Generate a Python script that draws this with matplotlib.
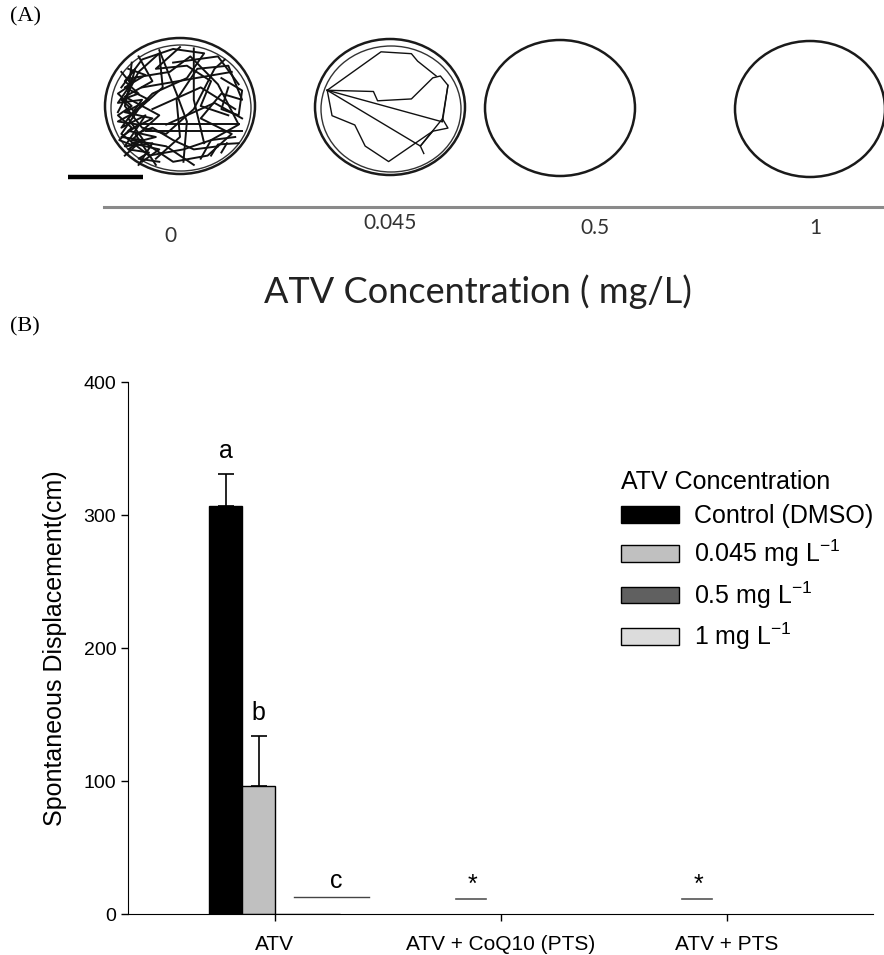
import numpy as np
import matplotlib.pyplot as plt
from matplotlib.patches import Ellipse

plt.rcParams['font.family'] = ['Liberation Sans', 'DejaVu Sans']
plt.rcParams['mathtext.fontset'] = 'custom'
plt.rcParams['mathtext.rm'] = 'Liberation Sans'
plt.rcParams['mathtext.it'] = 'Liberation Sans:italic'

# ---- panel A: tracking images (normalised coords inside each arena, y down)
arena_labels = ['0', '0.045', '0.5', '1']
arena_tracks = [
    [  # control: dense swimming
        [(-0.85, -0.3), (-0.55, -0.75), (-0.1, -0.92), (0.35, -0.85), (0.1, -0.45), (-0.4, -0.2),
         (-0.75, 0.2), (-0.5, 0.6), (-0.1, 0.9), (0.4, 0.8), (0.75, 0.45), (0.3, 0.2), (0.6, -0.2),
         (0.9, -0.1), (0.7, -0.65), (0.25, -0.6), (-0.05, -0.1), (0.0, 0.5), (-0.35, 0.85)],
        [(-0.9, 0.1), (-0.6, -0.55), (-0.3, -0.85), (-0.25, -0.3), (-0.6, 0.05), (-0.85, 0.45),
         (-0.45, 0.8), (0.05, 0.7), (0.45, 0.55), (0.85, 0.3), (0.55, -0.35), (0.15, -0.8),
         (-0.15, -0.55), (-0.7, -0.45), (-0.8, 0.0), (-0.55, 0.35), (-0.2, 0.45), (0.2, 0.05),
         (0.5, -0.6), (0.65, -0.75)],
        [(-0.7, -0.7), (-0.75, -0.2), (-0.65, -0.6), (-0.8, -0.4), (-0.6, -0.2), (-0.85, -0.1),
         (-0.65, 0.1), (-0.9, 0.25), (-0.6, 0.3), (-0.85, 0.5), (-0.55, 0.55), (-0.75, 0.7),
         (-0.45, 0.75), (-0.6, 0.85), (-0.3, 0.9)],
        [(-0.85, -0.55), (-0.7, -0.35), (-0.9, -0.2), (-0.7, 0.0), (-0.9, 0.15), (-0.7, 0.35),
         (-0.88, 0.55), (-0.65, 0.65), (-0.8, 0.8)],
        [(-0.75, -0.6), (-0.5, -0.5), (-0.8, -0.3), (-0.45, -0.1), (-0.8, 0.1), (-0.4, 0.2),
         (-0.75, 0.4), (-0.35, 0.5), (-0.7, 0.6), (-0.3, 0.7), (-0.55, 0.9)],
        [(-0.65, -0.45), (-0.9, -0.05), (-0.55, -0.1), (-0.85, 0.35), (-0.5, 0.15), (-0.8, 0.65),
         (-0.4, 0.6), (-0.6, 0.95)],
        [(-0.6, -0.8), (-0.4, -0.4), (-0.8, -0.15), (-0.3, 0.15), (-0.7, 0.55), (-0.2, 0.65), (0.2, 0.95)],
        [(0.0, -0.95), (-0.35, -0.6), (0.1, -0.65), (0.45, -0.4), (0.3, 0.0), (0.7, 0.15)],
        [(0.55, 0.65), (0.2, 0.7), (-0.1, 0.55), (-0.4, 0.35), (-0.65, 0.45), (-0.35, 0.95)],
        [(0.6, -0.45), (0.9, -0.25), (0.85, 0.15), (0.6, 0.05), (0.7, -0.3)],
        [(-0.6, 0.29), (0.85, 0.29)],
        [(-0.5, 0.41), (0.9, 0.41)],
        [(0.3, 0.85), (0.45, 0.55), (0.8, 0.5)],
        [(0.45, 0.8), (0.55, 0.62), (0.85, 0.6)],
        [(0.6, 0.75), (0.68, 0.6)],
        [(-0.3, -0.9), (-0.05, -0.2), (0.1, 0.25), (0.05, 0.9)],
        [(0.2, -0.93), (0.2, -0.1), (0.35, 0.6)],
        [(-0.2, 0.3), (0.5, -0.05), (0.9, 0.2)],
        [(-0.55, -0.3), (0.75, -0.55)],
        [(-0.4, 0.05), (0.3, -0.3), (0.8, 0.05)],
        [(-0.1, -0.7), (0.55, -0.8), (0.85, -0.35)],
    ],
    [  # 0.045 mg/L: a few passes
        [(-0.91, -0.27), (-0.24, -0.25), (-0.18, -0.10), (0.31, -0.13), (0.62, -0.47), (0.73, -0.50),
         (0.84, -0.35), (0.76, 0.19), (0.84, 0.34), (0.62, 0.39), (0.44, 0.63), (0.49, 0.75)],
        [(-0.91, -0.27), (-0.84, 0.14), (-0.51, 0.29), (-0.36, 0.63), (-0.02, 0.88), (0.62, 0.39)],
        [(-0.91, -0.27), (0.76, 0.24), (0.84, -0.35)],
        [(-0.91, -0.27), (-0.13, -0.89), (0.31, -0.86), (0.40, -0.74), (0.67, -0.50)],
        [(-0.91, -0.27), (0.44, 0.63), (0.76, 0.19)],
    ],
    [],
    [],
]

# ---- panel B: spontaneous displacement
groups = ['ATV', 'ATV + CoQ10 (PTS)', 'ATV + PTS']
series = ['Control (DMSO)', '0.045 mg L$^{\\mathregular{-1}}$',
          '0.5 mg L$^{\\mathregular{-1}}$', '1 mg L$^{\\mathregular{-1}}$']
colors = ['#000000', '#c0c0c0', '#606060', '#dcdcdc']
means = [307, 96, 0, 0]   # only ATV group has bars
sems = [24, 38, 0, 0]
letters = ['a', 'b']

fig = plt.figure(figsize=(8.84, 9.55), dpi=100)

# overlay axes in pixel units for panel A and the panel tags
ov = fig.add_axes([0, 0, 1, 1])
ov.set_xlim(0, 884)
ov.set_ylim(955, 0)
ov.axis('off')

centers = [(180, 106), (390, 107), (560, 108), (810, 109)]
rx, ry = 75, 68
for i, (cx, cy) in enumerate(centers):
    ov.add_patch(Ellipse((cx, cy), 2 * rx, 2 * ry, fill=False, ec='#1a1a1a', lw=1.8))
    if arena_tracks[i]:
        ov.add_patch(Ellipse((cx + 1, cy + 2), 2 * rx - 10, 2 * ry - 10, fill=False, ec='#333333', lw=1.0))
    for tr in arena_tracks[i]:
        pts = np.array(tr)
        ov.plot(cx + pts[:, 0] * (rx - 6), cy + pts[:, 1] * (ry - 6), color='#111111',
                lw=1.4 if i == 0 else 1.0)

ov.plot([68, 143], [177, 177], color='black', lw=3.2, solid_capstyle='butt')
ov.plot([104, 884], [207, 207], color='#8a8a8a', lw=2.2)
label_x = [170, 390, 595, 815]
label_y = [236, 223, 228, 228]
for lx, ly, lab in zip(label_x, label_y, arena_labels):
    ov.text(lx, ly, lab, ha='center', va='center',
            fontsize=15, family=['Lato', 'DejaVu Sans'], color='#333333')
ov.text(478, 292, 'ATV Concentration ( mg/L)', ha='center', va='center',
        fontsize=26, family=['Lato', 'DejaVu Sans'], color='#222222')
ov.text(10, 17, '(A)', ha='left', va='center', fontsize=16, family='Liberation Serif')
ov.text(10, 327, '(B)', ha='left', va='center', fontsize=16, family='Liberation Serif')

# panel B axes
ax = fig.add_axes([128 / 884, 41 / 955, 745 / 884, 532 / 955])
x = np.arange(len(groups))
w = 0.145
offs = (np.arange(4) - 1.5) * w
for j in range(4):
    ax.bar(x[0] + offs[j], means[j], w, color=colors[j], edgecolor='black', lw=1.0,
           label=series[j], zorder=2)
    if sems[j] > 0:
        ax.errorbar(x[0] + offs[j], means[j], yerr=[[0], [sems[j]]], fmt='none',
                    ecolor='black', elinewidth=1.2, capsize=5.5, capthick=1.2, zorder=1)
        ax.text(x[0] + offs[j], means[j] + sems[j] + 8, letters[j], ha='center', va='bottom',
                fontsize=18)

ax.plot([0.084, 0.416], [13, 13], color='#444444', lw=1.0)
ax.text(0.27, 16, 'c', ha='center', va='bottom', fontsize=18)
for g in (1, 2):
    ax.plot([g - 0.2, g - 0.066], [11.3, 11.3], color='#555555', lw=1.2)
    ax.text(g - 0.128, 13, '*', ha='center', va='bottom', fontsize=18)

ax.set_xlim(-0.65, 2.646)
ax.set_ylim(0, 400)
ax.set_xticks(x)
ax.set_xticklabels(groups, fontsize=15)
ax.set_yticks([0, 100, 200, 300, 400])
ax.tick_params(axis='y', labelsize=14, length=5, width=1, direction='out')
ax.tick_params(axis='x', length=5, width=1, direction='out', pad=10)
ax.spines['top'].set_visible(False)
ax.spines['right'].set_visible(False)
ax.set_ylabel('Spontaneous Displacement(cm)', fontsize=18, labelpad=12)

leg = ax.legend(title='ATV Concentration', loc='upper left',
                bbox_to_anchor=(621 / 884, 1 - 470 / 955), bbox_transform=fig.transFigure,
                frameon=False, fontsize=18, title_fontsize=18, handlelength=2.3,
                handleheight=0.65, labelspacing=0.4, handletextpad=0.6, borderpad=0,
                borderaxespad=0)
leg._legend_box.align = 'left'

plt.savefig('out.png', dpi=100)
